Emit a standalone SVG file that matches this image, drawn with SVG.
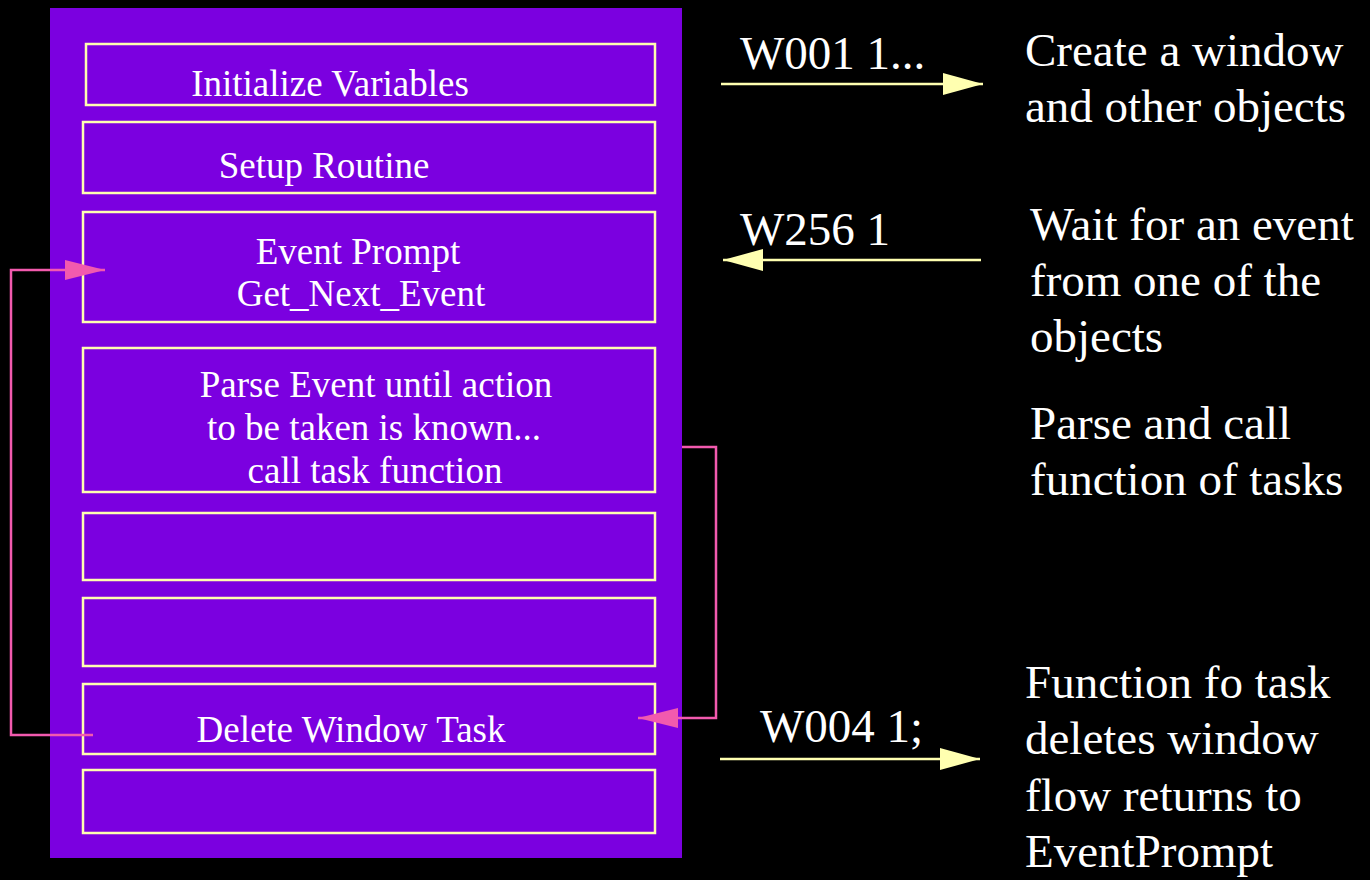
<svg xmlns="http://www.w3.org/2000/svg" width="1370" height="880" viewBox="0 0 1370 880">
  <style>
    .box { fill: none; stroke: #FFFFB0; stroke-width: 2.5; }
    .lbl { font-family: "Liberation Serif", "Times New Roman", serif; font-size: 37px; fill: #FFFFFF; text-anchor: middle; }
    .note { font-family: "Liberation Serif", "Times New Roman", serif; font-size: 47px; fill: #FFFFFF; }
    .flow { fill: none; stroke: #F25AAE; stroke-width: 2.5; }
    .msg { fill: none; stroke: #FFFFB0; stroke-width: 2.5; }
  </style>
  <defs>
    <marker id="pinkHead" viewBox="0 0 40 20" refX="40" refY="10" markerWidth="40" markerHeight="20" markerUnits="userSpaceOnUse" orient="auto">
      <path d="M0,0 L40,10 L0,20 Z" fill="#F25AAE"/>
    </marker>
    <marker id="yellowHead" viewBox="0 0 40 22" refX="40" refY="11" markerWidth="40" markerHeight="22" markerUnits="userSpaceOnUse" orient="auto">
      <path d="M0,0 L40,11 L0,22 Z" fill="#FFFFB0"/>
    </marker>
  </defs>

  <rect width="1370" height="880" fill="#000000"/>

  <!-- program body -->
  <rect id="program" x="50" y="8" width="632" height="850" fill="#7B00E0"/>

  <g id="init">
    <rect class="box" x="86" y="44" width="569" height="61"/>
    <text class="lbl" x="330" y="96">Initialize Variables</text>
  </g>
  <g id="setup">
    <rect class="box" x="83" y="122" width="572" height="71"/>
    <text class="lbl" x="324" y="178">Setup Routine</text>
  </g>
  <g id="event-prompt">
    <rect class="box" x="83" y="212" width="572" height="110"/>
    <text class="lbl" x="358" y="264">Event Prompt</text>
    <text class="lbl" x="361" y="306">Get_Next_Event</text>
  </g>
  <g id="parse-event">
    <rect class="box" x="83" y="348" width="572" height="144"/>
    <text class="lbl" x="376" y="397">Parse Event until action</text>
    <text class="lbl" x="374" y="440">to be taken is known...</text>
    <text class="lbl" x="375" y="483">call task function</text>
  </g>
  <g id="slot-a">
    <rect class="box" x="83" y="513" width="572" height="67"/>
  </g>
  <g id="slot-b">
    <rect class="box" x="83" y="598" width="572" height="68"/>
  </g>
  <g id="delete-task">
    <rect class="box" x="83" y="684" width="572" height="70"/>
    <text class="lbl" x="351" y="742">Delete Window Task</text>
  </g>
  <g id="slot-c">
    <rect class="box" x="83" y="770" width="572" height="63"/>
  </g>

  <!-- explanations -->
  <g id="note-create">
    <text class="note" x="1025" y="66">Create a window</text>
    <text class="note" x="1025" y="122">and other objects</text>
  </g>
  <g id="note-wait">
    <text class="note" x="1030" y="240">Wait for an event</text>
    <text class="note" x="1030" y="296">from one of the</text>
    <text class="note" x="1030" y="352">objects</text>
  </g>
  <g id="note-parse">
    <text class="note" x="1030" y="439">Parse and call</text>
    <text class="note" x="1030" y="495">function of tasks</text>
  </g>
  <g id="note-delete">
    <text class="note" x="1025" y="698">Function fo task</text>
    <text class="note" x="1025" y="754">deletes window</text>
    <text class="note" x="1025" y="811">flow returns to</text>
    <text class="note" x="1025" y="867">EventPrompt</text>
  </g>

  <!-- connectors -->
  <g id="connectors">
    <path class="flow" d="M93,735 H11 V270 H105" marker-end="url(#pinkHead)"/>
    <path class="flow" d="M682,447 H716 V718 H638" marker-end="url(#pinkHead)"/>
    <line class="msg" x1="721" y1="84" x2="983" y2="84" marker-end="url(#yellowHead)"/>
    <line class="msg" x1="981" y1="260" x2="723" y2="260" marker-end="url(#yellowHead)"/>
    <line class="msg" x1="720" y1="759" x2="980" y2="759" marker-end="url(#yellowHead)"/>
    <text class="note" x="740" y="69">W001 1...</text>
    <text class="note" x="740" y="245">W256 1</text>
    <text class="note" x="760" y="742">W004 1;</text>
  </g>
</svg>
